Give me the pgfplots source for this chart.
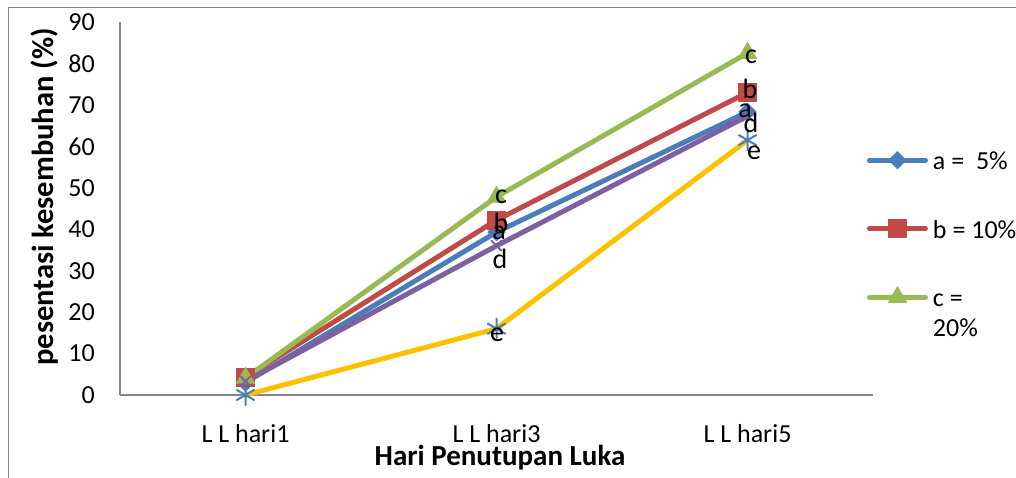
\documentclass[border=0pt]{standalone}
\usepackage{pgfplots}
\pgfplotsset{compat=1.18}
\usepackage{fontspec}
\setmainfont{Carlito}
\definecolor{ca}{HTML}{4A7EBB}
\definecolor{cb}{HTML}{BE4B48}
\definecolor{cc}{HTML}{98B954}
\definecolor{cd}{HTML}{7D60A0}
\definecolor{ce}{HTML}{FFC000}
\definecolor{axgray}{HTML}{868686}
\tikzset{lab/.style={inner sep=0pt, font=\fontsize{28}{32}\selectfont, text=black}}
\begin{document}
\begin{tikzpicture}[x=1pt,y=1pt]
\begin{axis}[
  set layers,
  at={(120pt,83pt)}, anchor=south west,
  scale only axis, width=753pt, height=373pt,
  xmin=0.5, xmax=3.5, ymin=0, ymax=90,
  xtick={1,2,3}, xticklabels={L L hari1, L L hari3, L L hari5},
  ytick={0,10,...,90},
  axis x line*=bottom, axis y line*=left,
  axis line style={draw=axgray, line width=1.3pt, -},
  major tick length=0pt,
  tick style={draw=none},
  /pgf/number format/assume math mode=true,
  ticklabel style={font=\fontsize{26}{30}\selectfont},
  yticklabel style={anchor=east, inner sep=0pt, xshift=-25pt},
  xticklabel style={anchor=base, inner sep=0pt, yshift=-48pt},
  xlabel={Hari Penutupan Luka},
  ylabel={pesentasi kesembuhan (\%)},
  xlabel style={font=\fontsize{29}{34}\selectfont\bfseries,
    at={([xshift=3.5pt,yshift=-71pt]axis description cs:0.5,0)}, anchor=base},
  ylabel style={font=\fontsize{30.5}{36}\selectfont\bfseries,
    at={([xshift=-75pt]axis description cs:0,0.531)}, anchor=center},
  clip=false,
  legend style={draw=none, fill=none, inner sep=0pt, outer sep=0pt,
    at={(axis description cs:0.992,0.665)}, anchor=north west,
    row sep=42pt, column sep=5pt, font=\fontsize{26}{30}\selectfont,
    nodes={inner xsep=0pt}},
  legend cell align=left,
  legend image code/.code={\draw[mark repeat=2,mark phase=2] plot coordinates {(0pt,0pt) (28pt,0pt) (56pt,0pt)};},
  every axis plot/.append style={line width=5pt, line join=round, line cap=round},
]
\addplot[ca, mark=diamond*, mark size=8.5pt, mark options={xscale=1.333, line width=1pt, fill=ca}]
  coordinates {(1,3) (2,39.3) (3,68.3)};
\addlegendentry{\strut a =\ \ 5\%}
\addplot[cb, mark=square*, mark size=9pt, mark options={line width=1pt, fill=cb}]
  coordinates {(1,4.3) (2,42.2) (3,73)};
\addlegendentry{\strut b = 10\%}
\addplot[cc, mark=triangle*, mark size=10.4pt, mark options={line width=1pt, fill=cc}]
  coordinates {(1,4.1) (2,47.8) (3,82.5)};
\addlegendentry{\begin{tabular}[t]{@{}l@{}}\strut c =\\20\%\end{tabular}}
\addplot[cd, forget plot, mark=x, mark size=7pt, mark options={line width=2pt}]
  coordinates {(1,3.3) (2,36) (3,67.3)};
\addplot[ce, forget plot, mark=asterisk, mark size=10pt, mark options={draw=ca, line width=2pt}]
  coordinates {(1,0) (2,16) (3,61.5)};
\begin{pgfonlayer}{axis foreground}
\node[lab] at (axis cs:2.018,47.78) {c};
\node[lab] at (axis cs:2.018,41.50) {b};
\node[lab] at (axis cs:2.010,39.09) {a};
\node[lab] at (axis cs:2.014,32.82) {d};
\node[lab] at (axis cs:2.002,14.48) {e};
\node[lab] at (axis cs:3.014,81.56) {c};
\node[lab] at (axis cs:3.010,73.83) {b};
\node[lab] at (axis cs:2.990,68.53) {a};
\node[lab] at (axis cs:3.014,65.63) {d};
\node[lab] at (axis cs:3.026,58.39) {e};
\end{pgfonlayer}
\end{axis}
\draw[axgray, line width=1.3pt] (8.5,0) -- (8.5,470.5) -- (1016,470.5);
\pgfresetboundingbox
\useasboundingbox (0,0) rectangle (1016,478);
\end{tikzpicture}
\end{document}
